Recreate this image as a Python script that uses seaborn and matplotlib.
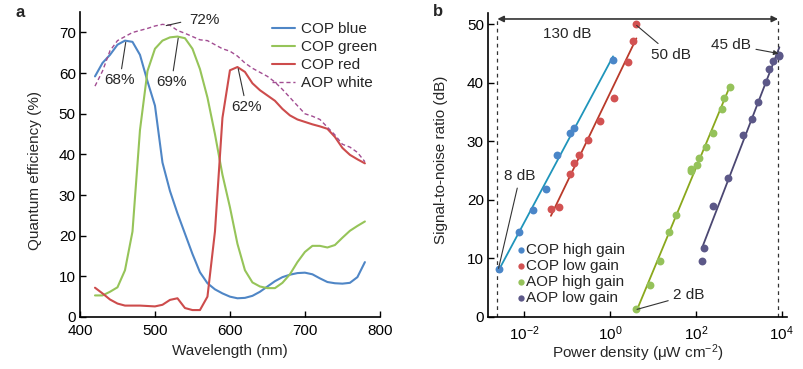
import numpy as np
import pandas as pd
import matplotlib
matplotlib.use("Agg")
import matplotlib.pyplot as plt
import matplotlib.ticker as mticker
import seaborn as sns

# Panel a: quantum efficiency spectra
wavelength = list(range(420, 790, 10))
cop_blue = [59.2, 62.5, 64.5, 67, 68, 67.7, 64.5, 58, 52, 38, 31, 25.5, 20.5, 15.5, 11,
            8.3, 6.8, 5.8, 5, 4.6, 4.7, 5.2, 6.2, 7.5, 8.8, 9.8, 10.4, 10.8, 10.9, 10.5,
            9.5, 8.6, 8.3, 8.2, 8.4, 9.8, 13.5]
cop_green = [5.3, 5.3, 6.2, 7.3, 11.5, 21, 46, 60.5, 66, 68, 68.8, 69, 68.6, 66, 61,
             54, 45, 35, 27, 18, 11.5, 8.5, 7.5, 7.1, 7.1, 8.4, 10.5, 13.5, 16, 17.5,
             17.5, 17.1, 17.7, 19.5, 21.2, 22.4, 23.5]
cop_red = [7.2, 5.8, 4.3, 3.3, 2.8, 2.8, 2.8, 2.7, 2.6, 3.0, 4.2, 4.6, 2.2, 1.7, 1.7,
           5.0, 21, 49, 60.7, 61.5, 60.3, 57.5, 55.8, 54.5, 53.2, 51.2, 49.6, 48.6, 48,
           47.4, 46.9, 46.3, 44.3, 41.6, 39.9, 38.8, 37.8]
aop_white = [56.8, 60.5, 65.5, 68, 69, 70, 70.5, 71, 71.6, 72, 71.8, 70.5, 69.8, 69,
             68.2, 68, 67, 66, 65.4, 64.2, 62.5, 61.2, 60.2, 59.2, 57.8, 56, 54, 52, 50,
             49.4, 48.6, 46.7, 44.8, 42.5, 41.8, 40.5, 38.2]

# Panel b: SNR vs power density
cop_high_x = [0.00258, 0.00753, 0.0157, 0.0315, 0.0566, 0.1156, 0.1432, 1.175]
cop_high_y = [8.15, 14.5, 18.3, 21.8, 27.7, 31.5, 32.2, 43.9]
cop_low_x = [0.0418, 0.0631, 0.1156, 0.1432, 0.1905, 0.3076, 0.5754, 1.219, 2.679, 3.428, 4.111]
cop_low_y = [18.4, 18.8, 24.4, 26.3, 27.7, 30.2, 33.5, 37.4, 43.5, 47.1, 50.0]
aop_high_x = [4.111, 8.375, 14.86, 23.17, 34.99, 78.16, 78.16, 107.2, 117.5, 173.8, 257.0, 402.7, 464.5, 631.0]
aop_high_y = [1.3, 5.5, 9.6, 14.5, 17.4, 25.0, 25.2, 26.0, 27.1, 29.1, 31.4, 35.6, 37.4, 39.2]
aop_low_x = [141.3, 151.4, 257.0, 562.3, 1239, 1995, 2754, 4325, 5129, 6457, 8511, 8900]
aop_low_y = [9.6, 11.7, 19.0, 23.7, 31.1, 33.8, 36.8, 40.2, 42.3, 43.7, 44.7, 44.6]

range_x = [0.00236, 8300]
range_y = 50.9

sns.set_theme(style="ticks")
plt.rcParams["font.family"] = ["Liberation Sans", "DejaVu Sans"]
plt.rcParams["mathtext.fontset"] = "custom"
plt.rcParams["mathtext.rm"] = "Liberation Sans"
plt.rcParams["mathtext.it"] = "Liberation Sans:italic"
plt.rcParams["font.size"] = 11

fig = plt.figure(figsize=(8.04, 3.69), dpi=100)
ax_a = fig.add_axes([0.0995, 0.141, 0.373, 0.826])
ax_b = fig.add_axes([0.607, 0.141, 0.3715, 0.825])

# ---- panel a
df_a = pd.DataFrame({"wl": wavelength, "COP blue": cop_blue, "COP green": cop_green,
                     "COP red": cop_red, "AOP white": aop_white})
sns.lineplot(data=df_a, x="wl", y="COP blue", ax=ax_a, color="#4f86c6", lw=1.5, label="COP blue")
sns.lineplot(data=df_a, x="wl", y="COP green", ax=ax_a, color="#96c459", lw=1.5, label="COP green")
sns.lineplot(data=df_a, x="wl", y="COP red", ax=ax_a, color="#cd4c4c", lw=1.5, label="COP red")
sns.lineplot(data=df_a, x="wl", y="AOP white", ax=ax_a, color="#a24d92", lw=1.0,
             linestyle=(0, (3, 2)), label="AOP white")

ax_a.set_xlim(400, 800)
ax_a.set_ylim(0, 75)
ax_a.set_xticks([400, 500, 600, 700, 800])
ax_a.set_yticks(range(0, 80, 10))
ax_a.set_xlabel("Wavelength (nm)", fontsize=11)
ax_a.set_ylabel("Quantum efficiency (%)", fontsize=11)
ax_a.xaxis.set_label_coords(0.5, -0.088)
ax_a.yaxis.set_label_coords(-0.127, 0.48)
ax_a.legend(loc="upper left", bbox_to_anchor=(0.64, 0.968), frameon=False, fontsize=11,
            handlelength=1.5, handletextpad=0.4, labelspacing=0.27, borderpad=0, borderaxespad=0)

ann = dict(arrowstyle="-", color="#333333", lw=0.8, shrinkA=1, shrinkB=0)
ax_a.annotate("72%", xy=(515, 71.7), xytext=(546, 73), ha="left", va="center", fontsize=11,
              arrowprops=dict(ann, relpos=(0, 0.5), shrinkA=4))
ax_a.annotate("68%", xy=(461, 67.6), xytext=(453, 58.2), ha="center", va="center", fontsize=11,
              arrowprops=ann)
ax_a.annotate("69%", xy=(531, 68.6), xytext=(522, 57.7), ha="center", va="center", fontsize=11,
              arrowprops=ann)
ax_a.annotate("62%", xy=(611, 61.1), xytext=(622, 51.6), ha="center", va="center", fontsize=11,
              arrowprops=ann)

# ---- panel b
series = [
    ("COP high gain", cop_high_x, cop_high_y, "#4a86c8", "#1f95bb"),
    ("COP low gain", cop_low_x, cop_low_y, "#d25252", "#b93a2a"),
    ("AOP high gain", aop_high_x, aop_high_y, "#95c25a", "#8aa81c"),
    ("AOP low gain", aop_low_x, aop_low_y, "#5c5888", "#4b4772"),
]
for name, xs, ys, pc, lc in series:
    sns.regplot(x=np.array(xs), y=np.array(ys), ax=ax_b, logx=True, ci=None, scatter=False,
                truncate=True, line_kws=dict(color=lc, lw=1.3))
for name, xs, ys, pc, lc in series:
    sns.scatterplot(x=xs, y=ys, ax=ax_b, color=pc, s=32, linewidth=0, label=name, zorder=3)

ax_b.set_xscale("log")
ax_b.set_xlim(10 ** -2.845, 10 ** 4.12)
ax_b.set_ylim(0, 52)
ax_b.xaxis.set_major_locator(mticker.FixedLocator([1e-2, 1, 1e2, 1e4]))
ax_b.xaxis.set_minor_locator(mticker.NullLocator())
ax_b.xaxis.set_major_formatter(mticker.LogFormatterMathtext())
ax_b.set_yticks(range(0, 60, 10))
ax_b.set_xlabel("Power density (μW cm$^{−2}$)", fontsize=11)
ax_b.set_ylabel("Signal-to-noise ratio (dB)", fontsize=11)
ax_b.xaxis.set_label_coords(0.5, -0.085)
ax_b.yaxis.set_label_coords(-0.134, 0.516)

ax_b.vlines(range_x, 0, range_y, colors="#333333", linestyles=(0, (3, 3)), lw=0.9)
ax_b.annotate("", xy=(range_x[1], range_y), xytext=(range_x[0], range_y),
              arrowprops=dict(arrowstyle="<|-|>", color="#333333", lw=1.2,
                              shrinkA=0, shrinkB=0, mutation_scale=9))
ax_b.text(0.1, 48.3, "130 dB", ha="center", va="center", fontsize=11)
ax_b.annotate("8 dB", xy=(10 ** -2.6, 8.3), xytext=(10 ** -2.1, 24), ha="center", va="center",
              fontsize=11, arrowprops=ann)
ax_b.annotate("50 dB", xy=(10 ** 0.62, 49.8), xytext=(10 ** 1.43, 44.8), ha="center",
              va="center", fontsize=11, arrowprops=ann)
ax_b.annotate("45 dB", xy=(10 ** 3.93, 45), xytext=(10 ** 2.83, 46.5), ha="center",
              va="center", fontsize=11,
              arrowprops=dict(arrowstyle="-|>", color="#333333", lw=0.8, shrinkA=1,
                              shrinkB=0, mutation_scale=7))
ax_b.annotate("2 dB", xy=(10 ** 0.63, 1.3), xytext=(10 ** 1.83, 3.75), ha="center",
              va="center", fontsize=11, arrowprops=ann)

ax_b.legend(loc="upper left", bbox_to_anchor=(0.095, 0.242), frameon=False, fontsize=11,
            handlelength=0.6, handletextpad=0.05, labelspacing=0.12, borderpad=0,
            borderaxespad=0, markerscale=0.8)

for ax in (ax_a, ax_b):
    sns.despine(ax=ax)
    ax.spines["left"].set_linewidth(1.2)
    ax.spines["bottom"].set_linewidth(1.2)
    ax.spines["left"].set_color("black")
    ax.spines["bottom"].set_color("black")
    ax.tick_params(direction="in", length=4, width=1, labelsize=11, colors="black", pad=3)
    ax.tick_params(axis="x", pad=5)

fig.text(0.019, 0.965, "a", fontsize=12, fontweight="bold", va="center")
fig.text(0.538, 0.97, "b", fontsize=12, fontweight="bold", va="center")

fig.savefig("out.png", dpi=100)
